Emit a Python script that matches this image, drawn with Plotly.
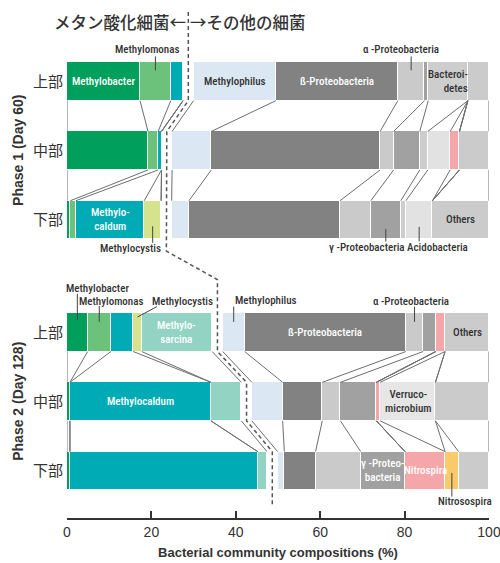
import plotly.graph_objects as go

# rows: Phase 1 上部/中部/下部, Phase 2 上部/中部/下部
row_labels = ["上部", "中部", "下部", "上部", "中部", "下部"]
phase_labels = ["Phase 1 (Day 60)", "Phase 2 (Day 128)"]
x_ticks = [0, 20, 40, 60, 80, 100]

# community composition (%)
methylobacter = [17.3, 19.2, 0.8, 4.9, 0.7, 0.7]
methylomonas = [7.3, 2.4, 1.3, 5.5, 0.0, 0.0]
methylocaldum = [2.9, 0.8, 16.2, 5.3, 33.4, 44.5]
methylocystis = [0.0, 0.0, 4.0, 2.0, 0.0, 0.0]
methylosarcina = [0.0, 0.0, 0.0, 16.7, 7.2, 2.2]
methylophilus = [19.5, 9.3, 4.1, 5.2, 7.3, 1.6]
beta_proteo = [28.9, 40.0, 35.8, 38.2, 9.4, 7.4]
alpha_proteo = [6.3, 3.2, 7.3, 4.1, 4.3, 10.7]
gamma_proteo = [0.9, 6.2, 7.1, 3.0, 8.5, 10.5]
bacteroidetes = [9.4, 1.9, 1.2, 0.0, 0.0, 0.0]
acidobacteria = [0.0, 5.3, 6.3, 0.0, 0.0, 0.0]
nitrospira = [0.0, 2.2, 0.0, 2.2, 0.9, 9.5]
verrucomicrobium = [0.0, 0.0, 0.0, 0.0, 13.1, 0.0]
nitrosospira = [0.0, 0.0, 0.0, 0.0, 0.0, 3.2]
others = [5.0, 7.0, 13.4, 10.4, 12.7, 7.2]

taxa = [
    ("Methylobacter", methylobacter, "#00a05c"),
    ("Methylomonas", methylomonas, "#6cc17b"),
    ("Methylocaldum", methylocaldum, "#00abb5"),
    ("Methylocystis", methylocystis, "#d5e38c"),
    ("Methylosarcina", methylosarcina, "#93d3c3"),
    ("Methylophilus", methylophilus, "#dbe8f3"),
    ("beta", beta_proteo, "#828282"),
    ("alpha", alpha_proteo, "#cacaca"),
    ("gamma", gamma_proteo, "#a1a1a1"),
    ("Bacteroidetes", bacteroidetes, "#cdcdcd"),
    ("Acidobacteria", acidobacteria, "#e2e2e2"),
    ("Nitrospira", nitrospira, "#f4a6a8"),
    ("Verrucomicrobium", verrucomicrobium, "#e6e6e6"),
    ("Nitrosospira", nitrosospira, "#f7ca6c"),
    ("Others", others, "#cbcbcb"),
]
N_METH = 5          # first five are methanotrophs
GAP = 2.5           # blank between methanotrophs and the rest
ROW_Y = [0, 1, 2, 3.62, 4.62, 5.62]
BAR_W = 0.556
H = BAR_W / 2
DARK = "#333333"
LAB = "Roboto Condensed, Liberation Sans Narrow, Roboto"
CJK = "Noto Sans CJK JP"
SANS = "Liberation Sans, Arial"

# segment extents and cumulative boundaries
seg = {}
bounds = []
gap_c = []
for r in range(6):
    x = 0
    b = [0]
    for i, (name, vals, col) in enumerate(taxa):
        if i == N_METH:
            gap_c.append(x + GAP / 2)
            x += GAP
            b.append(x)
        seg[(r, name)] = (x, x + vals[r])
        x += vals[r]
        b.append(x)
    bounds.append(b)


def mid(r, name):
    a, b = seg[(r, name)]
    return (a + b) / 2


fig = go.Figure()
for i, (name, vals, col) in enumerate(taxa):
    if i == N_METH:
        fig.add_bar(y=ROW_Y, x=[GAP] * 6, orientation="h", width=BAR_W,
                    marker_color="rgba(0,0,0,0)", marker_line_width=0,
                    hoverinfo="skip", showlegend=False)
    fig.add_bar(y=ROW_Y, x=vals, orientation="h", width=BAR_W, name=name,
                marker_color=col, marker_line=dict(color="white", width=1),
                showlegend=False)

# lines joining the same boundaries of neighbouring bars
cx, cy = [], []
for r in (0, 1, 3, 4):
    for a, b in zip(bounds[r], bounds[r + 1]):
        cx += [a, b, None]
        cy += [ROW_Y[r] + H, ROW_Y[r + 1] - H, None]
fig.add_scatter(x=cx, y=cy, mode="lines", line=dict(color="#6e6e6e", width=1),
                hoverinfo="skip", showlegend=False)

# dashed divider between methanotrophs and other bacteria
dx = [gap_c[0], gap_c[0], gap_c[1], gap_c[2], gap_c[2], gap_c[3],
      gap_c[3], gap_c[4], gap_c[4], gap_c[5], gap_c[5]]
dy = [-1.0, ROW_Y[0] + H, ROW_Y[1] - H, ROW_Y[2] + H, 2.45, 2.86,
      ROW_Y[3] + H, ROW_Y[4] - H, ROW_Y[4] + H, ROW_Y[5] - H, 6.1]
fig.add_scatter(x=dx, y=dy, mode="lines",
                line=dict(color="#555555", width=1.5, dash="4px,3px"),
                hoverinfo="skip", showlegend=False)

ann = []
# labels inside bars
inner = [
    (0, "Methylobacter", "Methylobacter", "white"),
    (0, "Methylophilus", "Methylophilus", DARK),
    (0, "beta", "ß-Proteobacteria", "white"),
    (0, "Bacteroidetes", "Bacteroi-<br>detes", DARK),
    (2, "Methylocaldum", "Methylo-<br>caldum", "white"),
    (2, "Others", "Others", DARK),
    (3, "Methylosarcina", "Methylo-<br>sarcina", "white"),
    (3, "beta", "ß-Proteobacteria", "white"),
    (3, "Others", "Others", DARK),
    (4, "Methylocaldum", "Methylocaldum", "white"),
    (4, "Verrucomicrobium", "Verruco-<br>microbium", DARK),
    (5, "gamma", "γ -Proteo-<br>bacteria", "white"),
    (5, "Nitrospira", "Nitrospira", "white"),
]
for r, name, text, col in inner:
    ann.append(dict(x=mid(r, name), y=ROW_Y[r], text=text, showarrow=False,
                    align="right" if name == "Bacteroidetes" else "center",
                    font=dict(family=LAB, size=11, color=col, weight=500)))

# labels outside bars with pointer lines
# (row, taxon, text, text y, pointer start y, pointer end y, text xshift px, pointer slant %)
outer = [
    (0, "Methylomonas", "Methylomonas", -0.46, -0.16, -0.36, -8, 0),
    (0, "alpha", "α -Proteobacteria", -0.46, -0.16, -0.36, -10, 0),
    (2, "Methylocystis", "Methylocystis", 2.415, 2.09, 2.33, -22, 0),
    (2, "gamma", "γ -Proteobacteria", 2.40, 2.13, 2.31, -19, 0),
    (2, "Acidobacteria", "Acidobacteria", 2.40, 2.10, 2.31, 18, 0),
    (3, "Methylobacter", "Methylobacter", 2.99, 3.44, 3.065, 20, 0),
    (3, "Methylomonas", "Methylomonas", 3.175, 3.47, 3.24, 12, 0),
    (3, "Methylocystis", "Methylocystis", 3.175, 3.40, 3.25, 45, 4.6),
    (3, "Methylophilus", "Methylophilus", 3.16, 3.47, 3.25, 32, 0),
    (3, "alpha", "α -Proteobacteria", 3.18, 3.47, 3.25, -4, 0),
    (5, "Nitrosospira", "Nitrosospira", 6.06, 5.65, 5.99, 13, 0),
]
px, py = [], []
for r, name, text, ty, y0, y1, xs, slant in outer:
    c = mid(r, name)
    px += [c, c + slant, None]
    py += [y0, y1, None]
    ann.append(dict(x=c, y=ty, text=text, showarrow=False, xshift=xs,
                    font=dict(family=LAB, size=11, color=DARK, weight=500)))
fig.add_scatter(x=px, y=py, mode="lines", line=dict(color="#444444", width=1),
                hoverinfo="skip", showlegend=False)

# heading
ann.append(dict(x=gap_c[0], y=-0.85, text="メタン酸化細菌←", showarrow=False,
                xanchor="right", xshift=0,
                font=dict(family=CJK, size=16.5, color=DARK, weight=500)))
ann.append(dict(x=gap_c[0], y=-0.85, text="→その他の細菌", showarrow=False,
                xanchor="left", xshift=0,
                font=dict(family=CJK, size=16.5, color=DARK, weight=500)))

# phase labels
for k, lab in enumerate(phase_labels):
    ann.append(dict(x=-0.118, xref="paper", xanchor="center", y=ROW_Y[3 * k + 1],
                    text="<b>%s</b>" % lab, showarrow=False, textangle=-90,
                    font=dict(family=SANS, size=14, color=DARK)))

fig.update_layout(
    width=500, height=563,
    barmode="stack", bargap=0,
    paper_bgcolor="white", plot_bgcolor="white",
    margin=dict(l=67, r=11, t=10, b=45),
    annotations=ann,
    xaxis=dict(range=[0, 100], tickvals=x_ticks, ticks="inside", ticklen=7,
               tickwidth=2, tickcolor=DARK, showline=True, linecolor=DARK,
               linewidth=2, showgrid=False, zeroline=False, automargin=False,
               ticklabeloverflow="allow",
               tickfont=dict(family=SANS, size=14, color=DARK),
               title=dict(text="<b>Bacterial community compositions (%)</b>",
                          font=dict(family=SANS, size=13, color=DARK),
                          standoff=9)),
    yaxis=dict(range=[6.30, -1.03], tickvals=ROW_Y, ticktext=row_labels,
               showgrid=False, zeroline=False, showline=False, ticks="",
               automargin=False, ticklabelstandoff=3,
               tickfont=dict(family=CJK, size=15, color=DARK)),
)

fig.write_html("out.html", config={"displayModeBar": False},
               post_script="document.body.style.margin='0';")
